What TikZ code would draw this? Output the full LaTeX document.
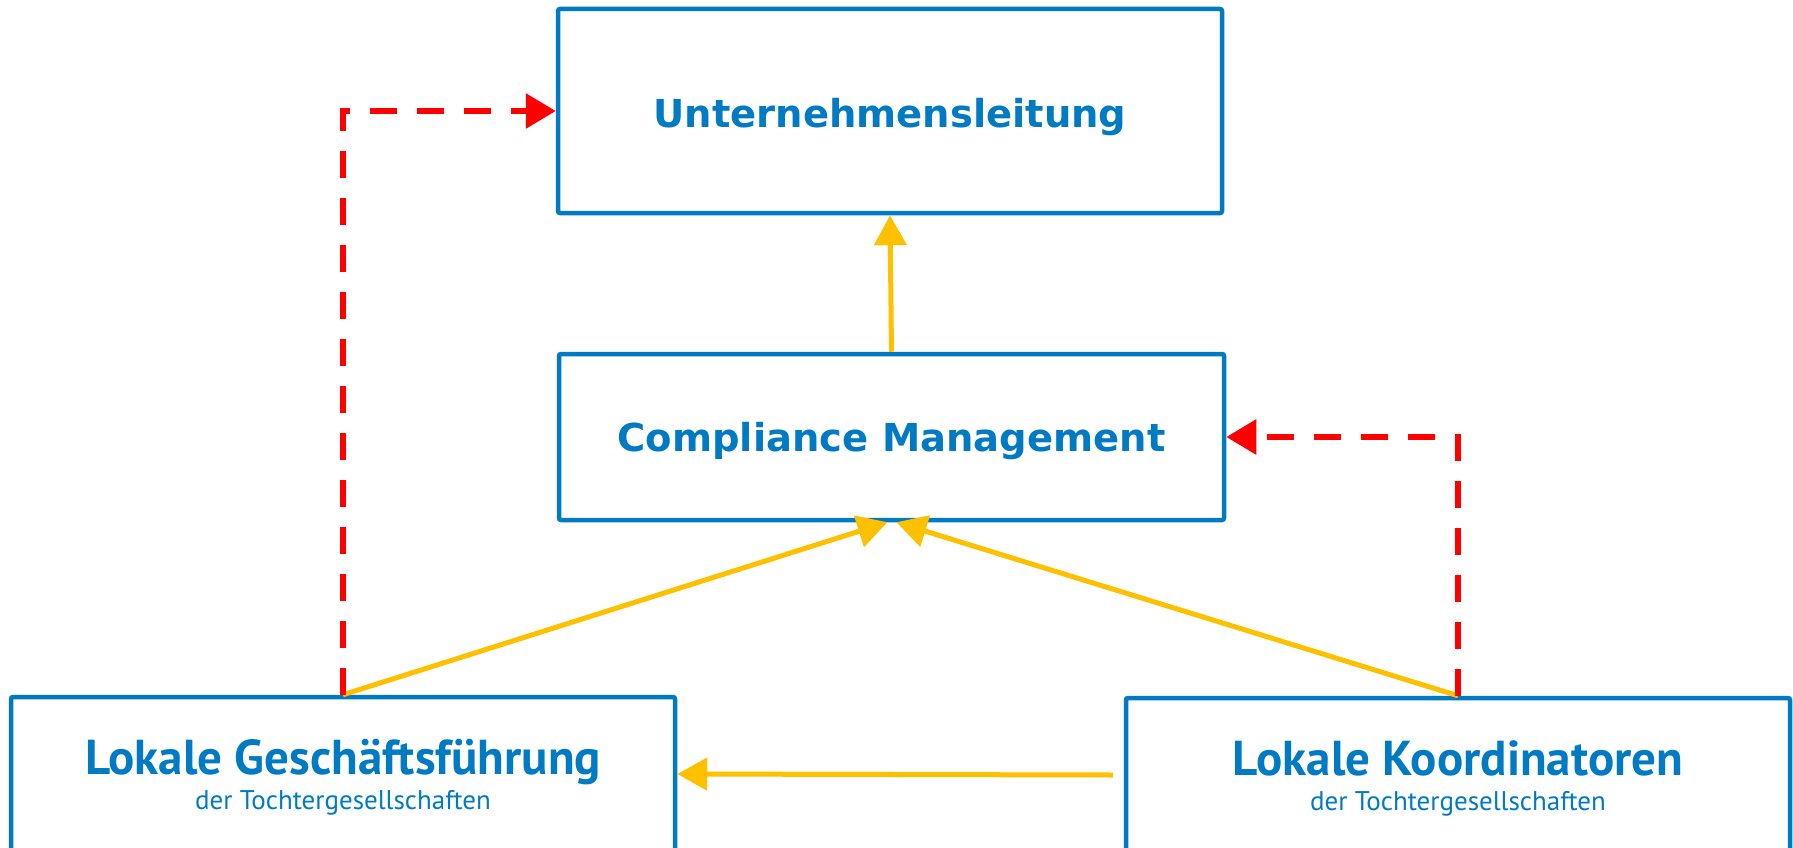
\documentclass[tikz,border=0pt]{standalone}
\usepackage{fontspec}
\newfontfamily\djfont{DejaVu Sans}
\newfontfamily\ptfont{PT Sans}
\usetikzlibrary{arrows.meta}
\definecolor{boxblue}{RGB}{0,122,194}
\definecolor{arrowyellow}{RGB}{255,192,0}
\definecolor{arrowred}{RGB}{255,0,0}
\tikzset{
  box/.style={draw=boxblue, line width=4.5pt, rounded corners=2pt, inner sep=0pt, text=boxblue, align=center},
  yarrow/.style={draw=arrowyellow, line width=5pt, -{Triangle[length=30pt,width=32pt]}},
  rarrow/.style={draw=arrowred, line width=6pt, dash pattern=on 27pt off 20pt, -{Triangle[length=30pt,width=34pt]}},
  toptitle/.style={font=\djfont\bfseries\fontsize{38.5pt}{44pt}\selectfont, text=boxblue},
  bottitle/.style={font=\ptfont\bfseries\fontsize{49pt}{54pt}\selectfont, text=boxblue, anchor=base},
  subtitle/.style={font=\ptfont\fontsize{27pt}{30pt}\selectfont, text=boxblue, anchor=base},
}
\begin{document}
\begin{tikzpicture}[x=1pt,y=-1pt]
\useasboundingbox (0,0) rectangle (1793,848);
\node[box, minimum width=664pt, minimum height=204pt] (ul) at (890,111) {};
\node[box, minimum width=665pt, minimum height=166pt] (cm) at (891.5,437) {};
\node[box, minimum width=664pt, minimum height=154pt] (lg) at (343,774) {};
\node[box, minimum width=664pt, minimum height=154pt] (rk) at (1458,775) {};
\node[toptitle] (ult) at (890,117) {Unternehmensleitung};
\node[toptitle] (cmt) at (891.5,441) {Compliance Management};
\node[bottitle] (lgt) at (343,774) {Lokale Geschäftsführung};
\node[subtitle] (lgs) at (343,809) {der Tochtergesellschaften};
\node[bottitle] (rkt) at (1458,775) {Lokale Koordinatoren};
\node[subtitle] (rks) at (1458,810) {der Tochtergesellschaften};
% connectors
\draw[yarrow] (cm.north) -- (ul.south);
\draw[yarrow] (lg.north) -- ([xshift=-4pt]cm.south);
\draw[yarrow] (rk.north) -- ([xshift=5pt]cm.south);
\draw[yarrow] ([xshift=-11pt]rk.west) -- (lg.east);
\draw[rarrow] (lg.north) |- (ul.west);
\draw[rarrow] (rk.north) |- (cm.east);
\end{tikzpicture}
\end{document}
